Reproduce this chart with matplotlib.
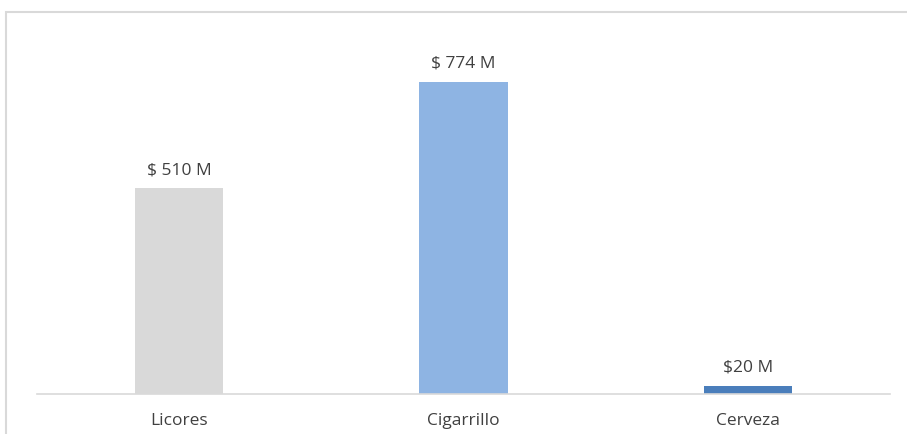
import matplotlib.pyplot as plt
from matplotlib.patches import Rectangle

# Data
categories = ['Licores', 'Cigarrillo', 'Cerveza']
values = [510, 774, 20]
value_labels = ['$ 510 M', '$ 774 M', '$20 M']
bar_colors = ['#d9d9d9', '#8eb4e3', '#4a7ebb']

plt.rcParams['font.family'] = ['Open Sans', 'DejaVu Sans']

fig = plt.figure(figsize=(9.07, 4.35), dpi=100)
ax = fig.add_axes([37 / 907, 40 / 435, 853 / 907, 360 / 435])

ax.bar(range(len(categories)), values, width=0.31, color=bar_colors)
ax.set_xlim(-0.5, 2.5)
ax.set_ylim(0, 893)

# Value labels above each bar
for i, (v, lab) in enumerate(zip(values, value_labels)):
    ax.annotate(lab, xy=(i, v), xytext=(0, 8), textcoords='offset points',
                ha='center', va='bottom', fontsize=12.5, color='#404040')

ax.set_xticks(range(len(categories)))
ax.set_xticklabels(categories, fontsize=12.5, color='#404040')
ax.tick_params(axis='x', length=0, pad=13)
ax.set_yticks([])

for s in ['top', 'right', 'left']:
    ax.spines[s].set_visible(False)
ax.spines['bottom'].set_color('#d9d9d9')
ax.spines['bottom'].set_linewidth(1.2)

# Chart area border (extends past the right and bottom edges)
fig.patches.append(Rectangle((6 / 907, -0.1), 1.1, 1 - 13 / 435 + 0.1,
                             transform=fig.transFigure, fill=False,
                             edgecolor='#d9d9d9', linewidth=1.5))

fig.savefig('out.png', dpi=100)
